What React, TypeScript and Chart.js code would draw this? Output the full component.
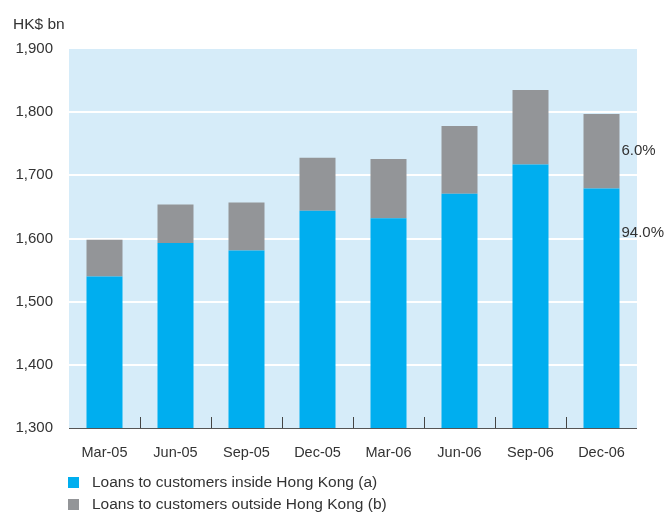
import React, { useEffect, useRef } from "react";
import { Chart, registerables } from "chart.js";

Chart.register(...registerables);

const categories = ["Mar-05", "Jun-05", "Sep-05", "Dec-05", "Mar-06", "Jun-06", "Sep-06", "Dec-06"];
const insideHK = [1540, 1593, 1581, 1644, 1632, 1671, 1717, 1679];
const outsideHK = [58, 61, 76, 84, 94, 107, 118, 118];
const seriesNames = ["Loans to customers inside Hong Kong (a)", "Loans to customers outside Hong Kong (b)"];
const yTickValues = [1300, 1400, 1500, 1600, 1700, 1800, 1900];
const unitLabel = "HK$ bn";
const shareLabels = ["94.0%", "6.0%"];
const shareLabelValue94 = 1609;

const BLUE = "#00aeef";
const GRAY = "#939598";
const BG = "#d6ecf9";
const TEXT = "#333333";
const FONT = "'Liberation Sans', Arial, Helvetica, sans-serif";

export default function App() {
  const ref = useRef<HTMLCanvasElement | null>(null);

  useEffect(() => {
    const canvas = ref.current;
    if (!canvas) return;

    const extras = {
      id: "extras",
      beforeDraw(chart: any) {
        const { ctx, chartArea } = chart;
        ctx.save();
        ctx.fillStyle = BG;
        ctx.fillRect(chartArea.left, chartArea.top, chartArea.right - chartArea.left, chartArea.bottom - chartArea.top);
        ctx.restore();
      },
      afterDraw(chart: any) {
        const { ctx, chartArea, scales } = chart;
        const x = scales.x;
        const y = scales.y;
        ctx.save();
        // axis line
        ctx.strokeStyle = "#555555";
        ctx.lineWidth = 1;
        ctx.beginPath();
        ctx.moveTo(chartArea.left, Math.round(chartArea.bottom) + 0.5);
        ctx.lineTo(chartArea.right, Math.round(chartArea.bottom) + 0.5);
        ctx.stroke();
        // tick marks between categories
        ctx.strokeStyle = "#444444";
        for (let i = 0; i < categories.length - 1; i++) {
          const px = Math.round((x.getPixelForValue(i) + x.getPixelForValue(i + 1)) / 2) + 0.5;
          ctx.beginPath();
          ctx.moveTo(px, chartArea.bottom);
          ctx.lineTo(px, chartArea.bottom - 11);
          ctx.stroke();
        }
        // unit label
        ctx.fillStyle = TEXT;
        ctx.font = `15.5px ${FONT}`;
        ctx.textAlign = "left";
        ctx.textBaseline = "middle";
        ctx.fillText(unitLabel, 13, 25);
        // share labels next to last bar
        const last = categories.length - 1;
        const bx = x.getPixelForValue(last) + 20;
        const grayMid = y.getPixelForValue(insideHK[last] + outsideHK[last] / 2);
        ctx.font = `15px ${FONT}`;
        ctx.fillText(shareLabels[1], bx, grayMid);
        ctx.fillText(shareLabels[0], bx, y.getPixelForValue(shareLabelValue94));
        // legend
        const colors = [BLUE, GRAY];
        const rows = [482, 504];
        ctx.font = `15.5px ${FONT}`;
        seriesNames.forEach((name, i) => {
          ctx.fillStyle = colors[i];
          ctx.fillRect(68, rows[i] - 5, 11, 11);
          ctx.fillStyle = TEXT;
          ctx.fillText(name, 92, rows[i] + 1);
        });
        ctx.restore();
      },
    };

    const chart = new Chart(canvas, {
      type: "bar",
      data: {
        labels: categories,
        datasets: [
          { label: seriesNames[0], data: insideHK, backgroundColor: BLUE, borderWidth: 0, clip: 0 } as any,
          { label: seriesNames[1], data: outsideHK, backgroundColor: GRAY, borderWidth: 0, clip: 0 } as any,
        ],
      },
      options: {
        animation: false,
        responsive: false,
        maintainAspectRatio: false,
        layout: { padding: { left: 0, right: 32, top: 49, bottom: 0 } },
        datasets: { bar: { categoryPercentage: 1, barPercentage: 0.507 } },
        plugins: { legend: { display: false }, tooltip: { enabled: false }, title: { display: false } },
        scales: {
          x: {
            stacked: true,
            grid: { display: false },
            border: { display: false },
            ticks: { color: TEXT, font: { family: FONT, size: 14.5 }, padding: 8, maxRotation: 0 },
            afterFit: (s: any) => { s.height = 84; },
          },
          y: {
            stacked: true,
            min: 1300,
            max: 1900,
            afterBuildTicks: (s: any) => { s.ticks = yTickValues.map((v) => ({ value: v })); },
            grid: {
              color: (c: any) => (c.tick && (c.tick.value === 1300 || c.tick.value === 1900) ? "rgba(0,0,0,0)" : "#ffffff"),
              lineWidth: 2,
              drawTicks: false,
            },
            border: { display: false },
            ticks: {
              color: TEXT,
              font: { family: FONT, size: 15 },
              padding: 16,
              callback: (v: any) => Number(v).toLocaleString("en-US"),
            },
            afterFit: (s: any) => { s.width = 69; },
          },
        },
      },
      plugins: [extras],
    });
    return () => chart.destroy();
  }, []);

  return (
    <div style={{ position: "absolute", left: 0, top: 0, width: 669, height: 512, background: "#fff" }}>
      <canvas ref={ref} width={669} height={512} style={{ display: "block", width: 669, height: 512 }} />
    </div>
  );
}
